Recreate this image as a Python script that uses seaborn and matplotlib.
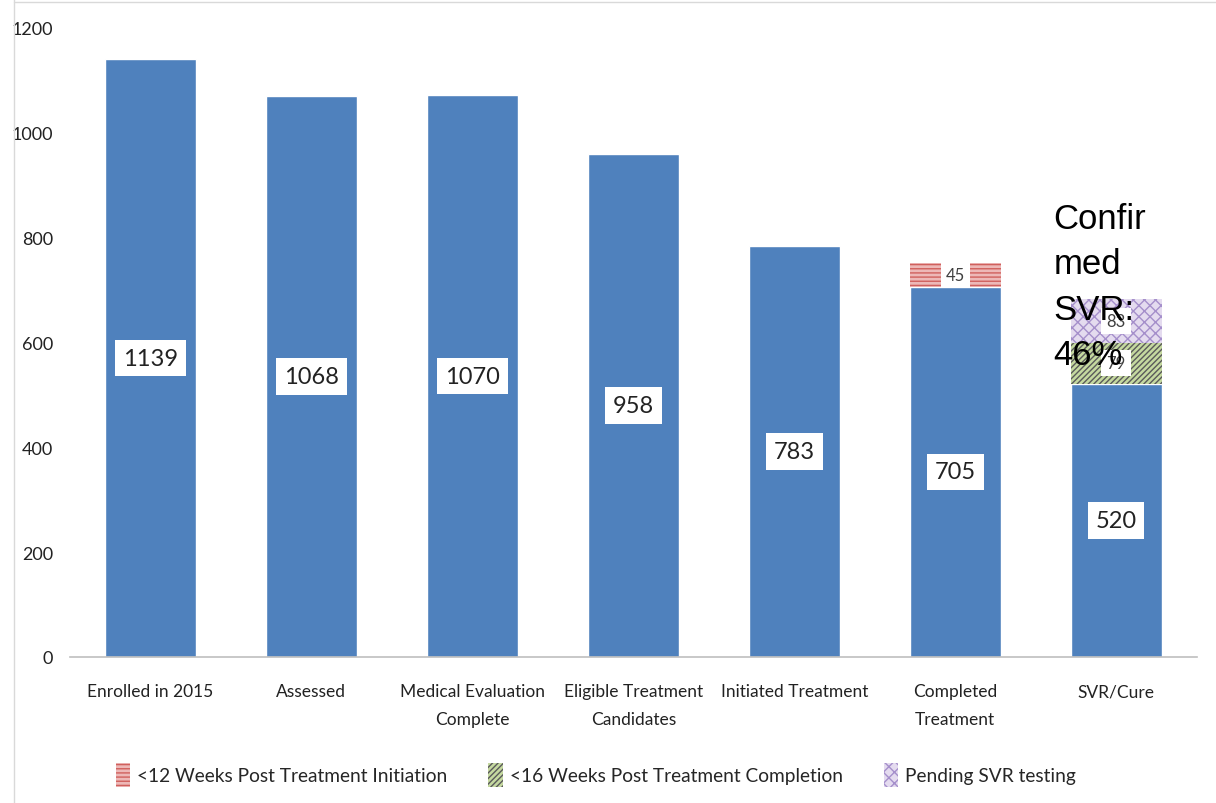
import matplotlib
matplotlib.use("Agg")
import matplotlib.pyplot as plt
import seaborn as sns
import pandas as pd
from matplotlib.patches import Patch

categories = ["Enrolled in 2015", "Assessed", "Medical Evaluation\nComplete",
              "Eligible Treatment\nCandidates", "Initiated Treatment",
              "Completed\nTreatment", "SVR/Cure"]
main_values = [1139, 1068, 1070, 958, 783, 705, 520]
weeks12_values = [0, 0, 0, 0, 0, 45, 0]
weeks16_values = [0, 0, 0, 0, 0, 0, 79]
pending_values = [0, 0, 0, 0, 0, 0, 83]
legend_labels = ["<12 Weeks Post Treatment Initiation",
                 "<16 Weeks Post Treatment Completion",
                 "Pending SVR testing"]
yticks = [0, 200, 400, 600, 800, 1000, 1200]

sns.set_theme(style="white")
narrow = ["Lato", "DejaVu Sans"]
plt.rcParams["font.family"] = narrow
plt.rcParams["hatch.linewidth"] = 1.0

fig = plt.figure(figsize=(12.16, 8.04), dpi=100)
ax = fig.add_axes([0.0576, 0.1816, 0.9264, 0.7834])

df = pd.DataFrame({"cat": categories, "val": main_values})
sns.barplot(data=df, x="cat", y="val", color="#4F81BD", saturation=1,
            width=0.565, ax=ax)

x = list(range(len(categories)))
b1 = main_values
ax.bar(x, weeks12_values, bottom=b1, width=0.565, facecolor="#EDB8B7",
       edgecolor="#D0605D", hatch="----", linewidth=0)
b2 = [a + b for a, b in zip(b1, weeks12_values)]
ax.bar(x, weeks16_values, bottom=b2, width=0.565, facecolor="#C5D9A0",
       edgecolor="#5A5A5A", hatch="//////", linewidth=0)
b3 = [a + b for a, b in zip(b2, weeks16_values)]
ax.bar(x, pending_values, bottom=b3, width=0.565, facecolor="#E4DBEF",
       edgecolor="#A58FCB", hatch="xxx", linewidth=0)

# value labels
for i, v in enumerate(main_values):
    ax.text(i, v / 2, str(v), ha="center", va="center", fontsize=17,
            color="#222222",
            bbox=dict(boxstyle="square,pad=0.33", fc="white", ec="none"))
for vals, bottoms in [(weeks12_values, b1), (weeks16_values, b2), (pending_values, b3)]:
    for i, v in enumerate(vals):
        if v > 0:
            ax.text(i, bottoms[i] + v / 2, str(v), ha="center", va="center",
                    fontsize=12, color="#404040",
                    bbox=dict(boxstyle="square,pad=0.3", fc="white", ec="none"))

ax.text(5.61, 867, "Confir\nmed\nSVR:\n46%", ha="left", va="top",
        fontsize=25, family=["Liberation Sans", "DejaVu Sans"],
        color="black", linespacing=1.48)

ax.set_xlim(-0.5, 6.5)
ax.set_ylim(0, 1200)
ax.set_yticks(yticks)
ax.set_yticklabels([str(t) for t in yticks])
ax.set_xlabel("")
ax.set_ylabel("")
ax.tick_params(axis="y", length=0, pad=12, labelsize=13, labelcolor="#222222")
ax.tick_params(axis="x", length=0, pad=19, labelsize=12.5, labelcolor="#222222")
for lbl in ax.get_xticklabels():
    lbl.set_linespacing(1.9)
for s in ["top", "right", "left"]:
    ax.spines[s].set_visible(False)
ax.spines["bottom"].set_color("#BFBFBF")
ax.spines["bottom"].set_linewidth(1.2)

handles = [
    Patch(facecolor="#EDB8B7", edgecolor="#D0605D", hatch="----", linewidth=0),
    Patch(facecolor="#C5D9A0", edgecolor="#5A5A5A", hatch="//////", linewidth=0),
    Patch(facecolor="#E4DBEF", edgecolor="#A58FCB", hatch="xxx", linewidth=0),
]
fig.legend(handles, legend_labels, loc="center", bbox_to_anchor=(0.49, 0.035),
           ncol=3, frameon=False, fontsize=13.8, handlelength=0.75,
           handleheight=1.6, columnspacing=2.15, handletextpad=0.35)

# screenshot frame lines
fig.add_artist(plt.Line2D([0.0115, 0.0115], [0, 1], transform=fig.transFigure,
                          color="#D9D9D9", lw=1))
fig.add_artist(plt.Line2D([0.0115, 1], [0.996, 0.996], transform=fig.transFigure,
                          color="#D9D9D9", lw=1))

fig.savefig("out.png", dpi=100)
